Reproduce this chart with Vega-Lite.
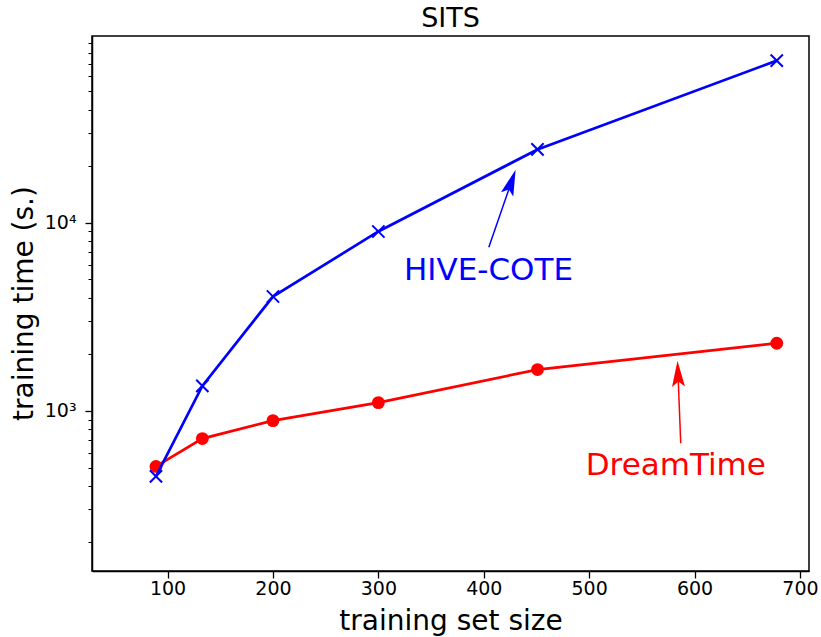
{
  "$schema": "https://vega.github.io/schema/vega-lite/v6.json",
  "width": 717,
  "height": 535,
  "autosize": "none",
  "padding": {"left": 92, "top": 36, "right": 12, "bottom": 66},
  "background": "white",
  "config": {
    "font": "DejaVu Sans",
    "view": {"stroke": "black", "strokeWidth": 1.5},
    "axis": {
      "domainColor": "black", "domainWidth": 1.5,
      "tickColor": "black", "tickWidth": 1.3,
      "labelColor": "black", "titleColor": "black",
      "grid": false,
      "labelFont": "DejaVu Sans", "titleFont": "DejaVu Sans",
      "labelFontSize": 19, "titleFontSize": 28, "titleFontWeight": "normal",
      "labelFlush": false, "labelOverlap": false
    }
  },
  "title": {"text": "SITS", "fontSize": 27, "fontWeight": "normal", "font": "DejaVu Sans", "frame": "group", "anchor": "middle", "baseline": "alphabetic", "offset": 8, "dy": 28, "color": "black"},
  "datasets": {
    "series": [
      {"series": "DreamTime", "x": 89, "y": 507},
      {"series": "DreamTime", "x": 133, "y": 713},
      {"series": "DreamTime", "x": 200, "y": 888},
      {"series": "DreamTime", "x": 300, "y": 1107},
      {"series": "DreamTime", "x": 451, "y": 1659},
      {"series": "DreamTime", "x": 678, "y": 2291},
      {"series": "HIVE-COTE", "x": 89, "y": 449},
      {"series": "HIVE-COTE", "x": 133, "y": 1359},
      {"series": "HIVE-COTE", "x": 200, "y": 4056},
      {"series": "HIVE-COTE", "x": 300, "y": 8995},
      {"series": "HIVE-COTE", "x": 451, "y": 24550},
      {"series": "HIVE-COTE", "x": 678, "y": 72800}
    ],
    "arrows": [
      {"series": "HIVE-COTE", "x": 404.8, "y": 7413, "x2": 426.2, "y2": 16470},
      {"series": "DreamTime", "x": 586.9, "y": 672.7, "x2": 584.3, "y2": 1578}
    ],
    "labels": [
      {"series": "HIVE-COTE", "x": 404.5, "y": 4978, "label": "HIVE-COTE"},
      {"series": "DreamTime", "x": 582.2, "y": 458.5, "label": "DreamTime"}
    ]
  },
  "encoding": {
    "x": {"field": "x", "type": "quantitative",
      "scale": {"domain": [28.3, 708.6], "nice": false, "zero": false},
      "axis": {"title": "training set size", "values": [100, 200, 300, 400, 500, 600, 700], "tickSize": 7, "labelPadding": 16, "labelBaseline": "alphabetic", "titleBaseline": "alphabetic", "titleY": 58, "titleX": 358.5}},
    "y": {"field": "y", "type": "quantitative",
      "scale": {"type": "log", "domain": [141, 98400], "nice": false, "zero": false},
      "axis": {"title": "training time (s.)",
        "values": [200, 300, 400, 500, 600, 700, 800, 900, 1000, 2000, 3000, 4000, 5000, 6000, 7000, 8000, 9000, 10000, 20000, 30000, 40000, 50000, 60000, 70000, 80000, 90000],
        "labelExpr": "datum.value == 1000 ? '10³' : (datum.value == 10000 ? '10⁴' : '')",
        "tickSize": {"condition": {"test": "datum.value == 1000 || datum.value == 10000", "value": 7}, "value": 4},
        "tickWidth": {"condition": {"test": "datum.value == 1000 || datum.value == 10000", "value": 1.3}, "value": 1},
        "labelPadding": 9,
        "titleAngle": -90, "titleBaseline": "alphabetic", "titleX": -60, "titleY": 267}},
    "color": {"field": "series", "type": "nominal", "scale": {"domain": ["DreamTime", "HIVE-COTE"], "range": ["#ff0000", "#0000ff"]}, "legend": null}
  },
  "layer": [
    {"data": {"name": "series"}, "transform": [{"filter": "datum.series == 'DreamTime'"}], "mark": {"type": "line", "strokeWidth": 2.7}},
    {"data": {"name": "series"}, "transform": [{"filter": "datum.series == 'DreamTime'"}], "mark": {"type": "point", "shape": "circle", "filled": true, "size": 165, "opacity": 1}},
    {"data": {"name": "series"}, "transform": [{"filter": "datum.series == 'HIVE-COTE'"}], "mark": {"type": "line", "strokeWidth": 2.7}},
    {"data": {"name": "series"}, "transform": [{"filter": "datum.series == 'HIVE-COTE'"}], "mark": {"type": "point", "shape": "M-1,-1L1,1M1,-1L-1,1", "filled": false, "size": 150, "strokeWidth": 2, "opacity": 1}},
    {"data": {"name": "arrows"}, "mark": {"type": "rule", "strokeWidth": 1.5}, "encoding": {"x2": {"field": "x2"}, "y2": {"field": "y2"}}},
    {"data": {"name": "arrows"}, "transform": [{"filter": "datum.series == 'HIVE-COTE'"}], "mark": {"type": "point", "shape": "M0,-1L0.5,1L0,0.6L-0.5,1Z", "filled": true, "size": 676, "angle": 19, "opacity": 1, "strokeWidth": 0}, "encoding": {"x": {"field": "x2", "type": "quantitative"}, "y": {"field": "y2", "type": "quantitative"}}},
    {"data": {"name": "arrows"}, "transform": [{"filter": "datum.series == 'DreamTime'"}], "mark": {"type": "point", "shape": "M0,-1L0.5,1L0,0.6L-0.5,1Z", "filled": true, "size": 676, "angle": -2.3, "opacity": 1, "strokeWidth": 0}, "encoding": {"x": {"field": "x2", "type": "quantitative"}, "y": {"field": "y2", "type": "quantitative"}}},
    {"data": {"name": "labels"}, "mark": {"type": "text", "fontSize": 31, "baseline": "alphabetic", "align": "center", "font": "DejaVu Sans"}, "encoding": {"text": {"field": "label"}}}
  ]
}
